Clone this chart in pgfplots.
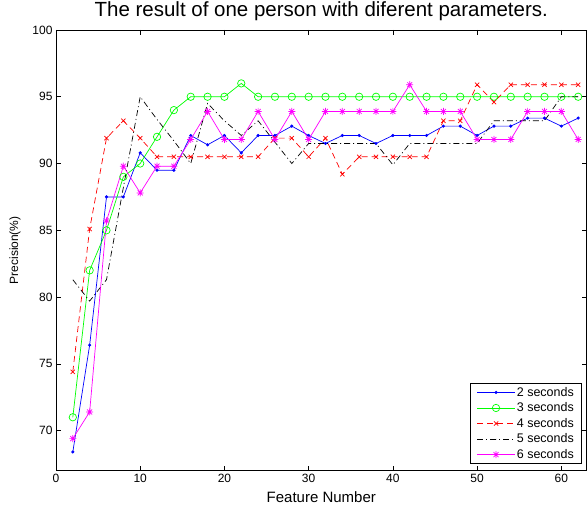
\documentclass[border=0pt]{standalone}
\usepackage{fontspec}
\setmainfont{Liberation Sans}
\usepackage{pgfplots}
\pgfplotsset{compat=1.18}
\definecolor{mblue}{rgb}{0,0,1}
\definecolor{mgreen}{rgb}{0,1,0}
\definecolor{mred}{rgb}{1,0,0}
\definecolor{mmag}{rgb}{1,0,1}
\pgfdeclareplotmark{mstar}{%
  \pgfpathmoveto{\pgfqpoint{-\pgfplotmarksize}{0pt}}\pgfpathlineto{\pgfqpoint{\pgfplotmarksize}{0pt}}%
  \pgfpathmoveto{\pgfqpoint{0pt}{-\pgfplotmarksize}}\pgfpathlineto{\pgfqpoint{0pt}{\pgfplotmarksize}}%
  \pgfpathmoveto{\pgfqpoint{-.707\pgfplotmarksize}{-.707\pgfplotmarksize}}\pgfpathlineto{\pgfqpoint{.707\pgfplotmarksize}{.707\pgfplotmarksize}}%
  \pgfpathmoveto{\pgfqpoint{-.707\pgfplotmarksize}{.707\pgfplotmarksize}}\pgfpathlineto{\pgfqpoint{.707\pgfplotmarksize}{-.707\pgfplotmarksize}}%
  \pgfusepathqstroke}
\begin{document}
\begin{tikzpicture}
\begin{axis}[
  name=ax, scale only axis, width=531pt, height=441pt,
  xmin=0, xmax=63, ymin=67, ymax=100,
  xtick={0,10,...,60}, ytick={70,75,...,100},
  tick align=inside, major tick length=5pt, tick pos=both, ticklabel pos=left,
  axis line style={line width=0.8pt},
  every tick/.style={black, line width=0.6pt},
  tick label style={font=\fontsize{12}{14}\selectfont},
  /pgf/number format/assume math mode=true,
  title={The result of one person with diferent parameters.},
  every axis title shift=0pt,
  title style={at={(axis description cs:0.5,1.0295)}, anchor=base, font=\fontsize{20.5}{24}\selectfont, inner sep=0pt},
  xlabel={Feature Number},
  xlabel style={at={(axis description cs:0.5,-0.0726)}, anchor=base, font=\fontsize{15}{18}\selectfont, inner sep=0pt},
  ylabel={Precision(\%)},
  ylabel style={at={(axis description cs:-0.0772,0.5)}, anchor=center, font=\fontsize{12}{14}\selectfont, inner sep=0pt},
  legend style={at={(1,0)}, anchor=south east, xshift=-5pt, yshift=7pt,
    font=\fontsize{12.5}{14}\selectfont, draw=black, line width=0.6pt,
    inner xsep=6pt, inner ysep=2pt, nodes={inner sep=1.5pt}, row sep=2pt},
  legend cell align=left,
  legend image code/.code={\draw[mark repeat=2,mark phase=2,#1] plot coordinates {(0pt,0pt) (19pt,0pt) (38pt,0pt)};},
]
\addplot[mblue, line width=0.7pt, mark=*, mark size=1.2pt, mark options={solid}] coordinates {
(2,68.4)(4,76.4)(6,87.5)(8,87.5)(10,90.8)(12,89.5)(14,89.5)(16,92.1)(18,91.4)(20,92.1)
(22,90.8)(24,92.1)(26,92.1)(28,92.8)(30,92.1)(32,91.5)(34,92.1)(36,92.1)(38,91.5)(40,92.1)
(42,92.1)(44,92.1)(46,92.8)(48,92.8)(50,92.1)(52,92.8)(54,92.8)(56,93.4)(58,93.4)(60,92.8)(62,93.4)};
\addlegendentry{2 seconds}
\addplot[mgreen, line width=0.7pt, mark=o, mark size=3.7pt, mark options={solid}] coordinates {
(2,71)(4,82)(6,85)(8,89)(10,90)(12,92)(14,94)(16,95)(18,95)(20,95)
(22,96)(24,95)(26,95)(28,95)(30,95)(32,95)(34,95)(36,95)(38,95)(40,95)
(42,95)(44,95)(46,95)(48,95)(50,95)(52,95)(54,95)(56,95)(58,95)(60,95)(62,95)};
\addlegendentry{3 seconds}
\addplot[mred, line width=0.7pt, dash pattern=on 6pt off 4pt, mark=x, mark size=3pt, mark options={solid}] coordinates {
(2,74.4)(4,85.1)(6,91.9)(8,93.2)(10,91.9)(12,90.5)(14,90.5)(16,90.5)(18,90.5)(20,90.5)
(22,90.5)(24,90.5)(26,91.9)(28,91.9)(30,90.5)(32,91.9)(34,89.2)(36,90.5)(38,90.5)(40,90.5)
(42,90.5)(44,90.5)(46,93.2)(48,93.2)(50,95.9)(52,94.6)(54,95.9)(56,95.9)(58,95.9)(60,95.9)(62,95.9)};
\addlegendentry{4 seconds}
\addplot[black, line width=0.7pt, dash pattern=on 6pt off 3pt on 1pt off 3pt] coordinates {
(2,81.3)(4,79.7)(6,81.3)(8,88.2)(10,95.0)(12,93.3)(14,91.7)(16,90.0)(18,94.5)(20,93.2)
(22,92.1)(24,93.2)(26,91.6)(28,90.0)(30,91.5)(32,91.5)(34,91.5)(36,91.5)(38,91.5)(40,89.9)
(42,91.5)(44,91.5)(46,91.5)(48,91.5)(50,91.5)(52,93.2)(54,93.2)(56,93.2)(58,93.2)(60,95.0)(62,95.0)};
\addlegendentry{5 seconds}
\addplot[mmag, line width=0.7pt, mark=mstar, mark size=3.5pt, mark options={solid}] coordinates {
(2,69.4)(4,71.4)(6,85.7)(8,89.8)(10,87.8)(12,89.8)(14,89.8)(16,91.8)(18,93.9)(20,91.8)
(22,91.8)(24,93.9)(26,91.8)(28,93.9)(30,91.8)(32,93.9)(34,93.9)(36,93.9)(38,93.9)(40,93.9)
(42,95.9)(44,93.9)(46,93.9)(48,93.9)(50,91.8)(52,91.8)(54,91.8)(56,93.9)(58,93.9)(60,93.9)(62,91.8)};
\addlegendentry{6 seconds}
\end{axis}
\pgfresetboundingbox
\path[use as bounding box] ([xshift=-56pt,yshift=-39pt]ax.south west) rectangle ([xshift=0.4pt,yshift=30pt]ax.north east);
\end{tikzpicture}
\end{document}
